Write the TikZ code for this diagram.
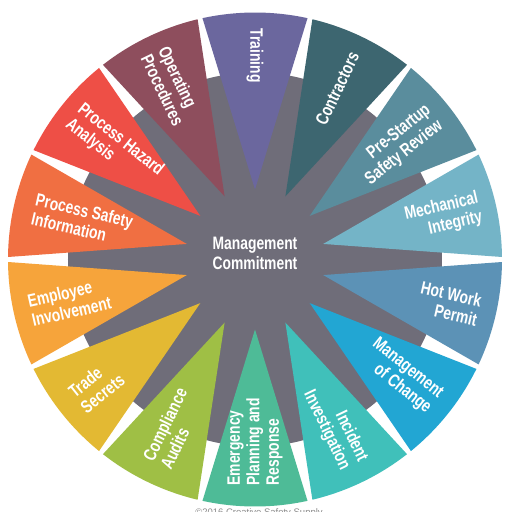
\documentclass[tikz,border=0pt]{standalone}
\usepackage{fontspec}
\setmainfont{Liberation Sans}
\newfontfamily\lab{Liberation Sans Bold}[FakeStretch=0.77]
\definecolor{cgray}{HTML}{6F6D79}
\definecolor{ctrain}{HTML}{6B679E}
\definecolor{ccontr}{HTML}{3D6670}
\definecolor{cpssr}{HTML}{5A8D9D}
\definecolor{cmi}{HTML}{74B4C7}
\definecolor{chwp}{HTML}{5C92B6}
\definecolor{cmoc}{HTML}{22A6D3}
\definecolor{cii}{HTML}{40C0BA}
\definecolor{cepr}{HTML}{4EBB97}
\definecolor{cca}{HTML}{9FBF45}
\definecolor{cts}{HTML}{E3B933}
\definecolor{cei}{HTML}{F6A43B}
\definecolor{cpsi}{HTML}{F06F42}
\definecolor{cpha}{HTML}{EE4F46}
\definecolor{cop}{HTML}{8E4E5D}
\tikzset{
  lbl/.style={font={\lab\fontsize{18}{19.5}\selectfont}, text=white, inner sep=0pt},
  outr/.style={lbl, anchor=east, align=right},
  inw/.style={lbl, anchor=west, align=left},
  copy/.style={font={\fontsize{9.5}{10}\selectfont}, text=black!45, inner sep=0pt, anchor=north}
}
\begin{document}
\begin{tikzpicture}[x=1pt,y=1pt]
\useasboundingbox (-255,-252.5) rectangle (257,259.5);
\fill[white] (-255,-252.5) rectangle (257,259.5);
\fill[cgray] (0,0) circle (187);
\foreach \i/\c in {0/ctrain,1/ccontr,2/cpssr,3/cmi,4/chwp,5/cmoc,6/cii,7/cepr,8/cca,9/cts,10/cei,11/cpsi,12/cpha,13/cop}{
  \pgfmathsetmacro\t{90-\i*360/14}
  \pgfmathsetmacro\a{\t+12.857-0.58}
  \pgfmathsetmacro\b{\t-12.857+0.58}
  \fill[\c] (\t:70) -- (\a:247) arc[start angle=\a, end angle=\b, radius=247] -- cycle;
}
\node[lbl, align=center] (mc) at (0,6) {Management\\Commitment};
\node[inw, rotate=-90] (tr) at (90:231) {Training};
\node[outr, rotate=64.29] (co) at (64.29:229) {Contractors};
\node[outr, rotate=38.57] (ps) at (38.57:230) {Pre-Startup\\Safety Review};
\node[outr, rotate=12.86] (mi) at (12.86:231) {Mechanical\\Integrity};
\node[outr, rotate=-12.86] (hw) at (-12.86:230) {Hot Work\\Permit};
\node[outr, rotate=-38.57] (moc) at (-38.57:230) {Management\\of Change};
\node[outr, rotate=-64.29] (ii) at (-64.29:228) {Incident\\Investigation};
\node[inw, rotate=90] (ep) at (-90:226) {Emergency\\Planning and\\Response};
\node[inw, rotate=64.29] (ca) at (-115.71:227) {Compliance\\Audits};
\node[inw, rotate=38.57] (ts) at (-141.43:228) {Trade\\Secrets};
\node[inw, rotate=12.86] (ei) at (-167.14:231) {Employee\\Involvement};
\node[inw, rotate=-12.86] (psi) at (167.14:227) {Process Safety\\Information};
\node[inw, rotate=-38.57] (pha) at (141.43:232) {Process Hazard\\Analysis};
\node[inw, rotate=-64.29] (op) at (115.71:231) {Operating\\Procedures};
\node[copy] (cr) at (4,-248.5) {\textcopyright 2016 Creative Safety Supply};
\end{tikzpicture}
\end{document}
